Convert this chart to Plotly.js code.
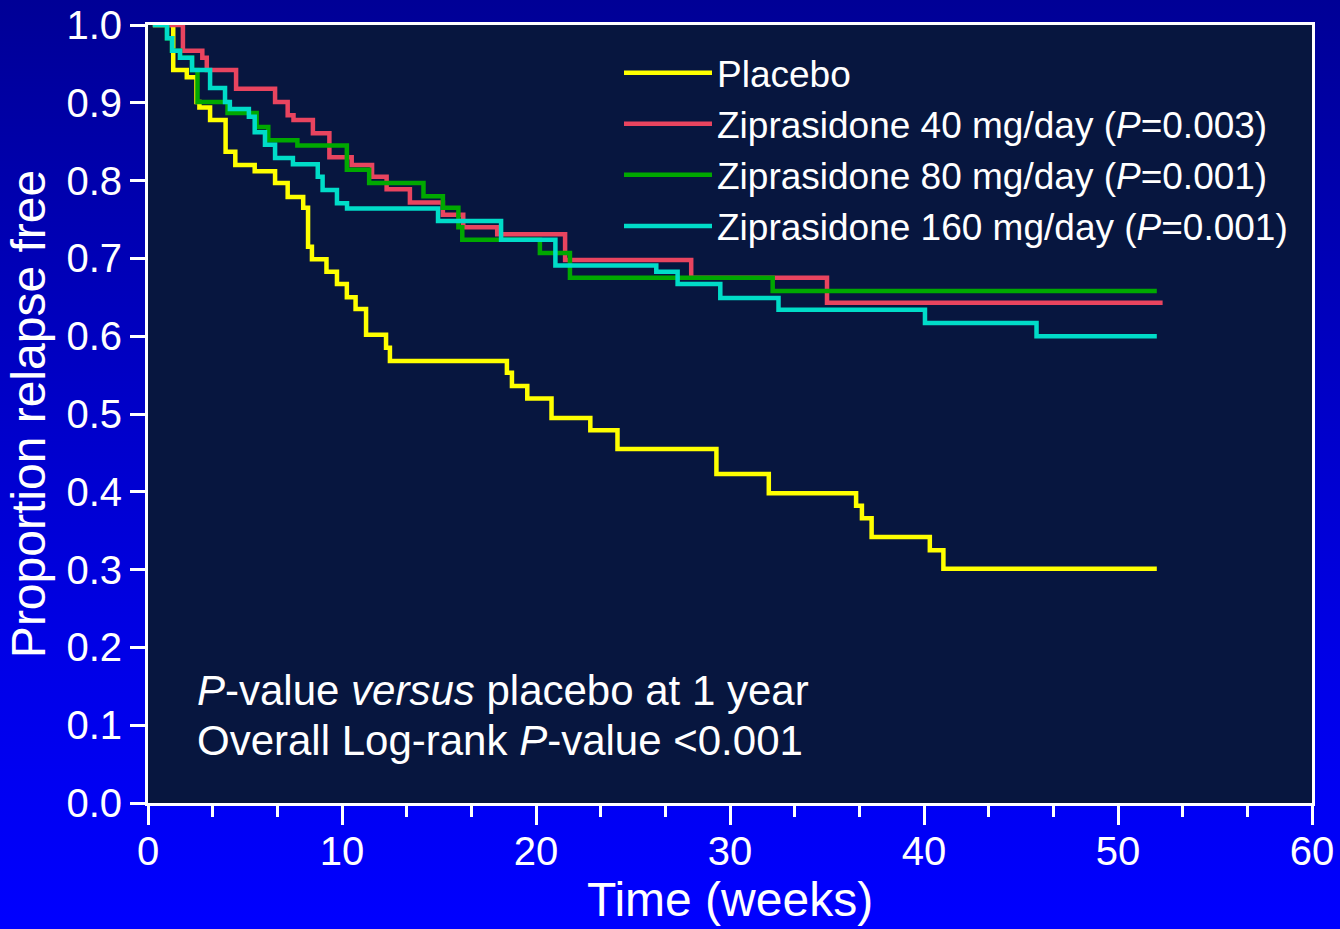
<!DOCTYPE html>
<html>
<head>
<meta charset="utf-8">
<script src="https://cdn.plot.ly/plotly-3.0.1.min.js"></script>
<style>
  html, body { margin: 0; padding: 0; }
  body { width: 1340px; height: 929px; background: linear-gradient(to bottom, #000096 0%, #0000e6 70%, #0000ff 100%); }
  #chart { width: 1340px; height: 929px; }
</style>
</head>
<body>
<div id="chart"></div>
<script>
// Kaplan-Meier step data (time in weeks, proportion relapse free after each step)
const placeboTime = [0.25, 1.3, 2.0, 2.5, 2.65, 3.2, 4.0, 4.5, 5.5, 6.55, 7.2, 8.0, 8.25, 8.45, 9.2, 9.74, 10.25, 10.7, 11.24, 12.27, 12.47, 18.5, 18.76, 19.55, 20.8, 22.8, 24.2, 29.3, 32.0, 36.5, 36.8, 37.3, 40.3, 41.0, 52.0];
const placeboSurv = [1.0, 0.942, 0.933, 0.901, 0.894, 0.878, 0.837, 0.820, 0.812, 0.797, 0.779, 0.765, 0.715, 0.699, 0.683, 0.667, 0.650, 0.635, 0.602, 0.585, 0.568, 0.553, 0.536, 0.520, 0.495, 0.479, 0.455, 0.423, 0.398, 0.382, 0.366, 0.342, 0.325, 0.301, 0.301];

const zip40Time = [0.25, 1.8, 2.8, 3.03, 4.54, 6.55, 7.2, 7.5, 8.5, 9.35, 10.5, 11.55, 12.3, 13.5, 15.2, 16.25, 18.0, 21.5, 28.0, 35.0, 52.3];
const zip40Surv = [1.0, 0.967, 0.958, 0.942, 0.918, 0.901, 0.884, 0.878, 0.861, 0.830, 0.820, 0.805, 0.789, 0.772, 0.756, 0.740, 0.731, 0.698, 0.675, 0.643, 0.643];

const zip80Time = [0.25, 0.98, 1.24, 1.65, 2.27, 2.55, 4.1, 5.6, 6.2, 7.7, 10.25, 11.4, 14.2, 15.2, 16.0, 16.2, 20.2, 21.75, 32.2, 52.0];
const zip80Surv = [1.0, 0.983, 0.967, 0.958, 0.942, 0.901, 0.887, 0.869, 0.852, 0.845, 0.814, 0.797, 0.780, 0.765, 0.740, 0.724, 0.707, 0.675, 0.658, 0.658];

const zip160Time = [0.25, 0.98, 1.24, 1.65, 2.27, 3.2, 3.97, 4.22, 5.2, 5.5, 6.03, 6.55, 7.47, 8.75, 9.0, 9.74, 10.26, 14.95, 18.2, 21.0, 26.2, 27.3, 29.5, 32.5, 40.05, 45.8, 52.0];
const zip160Surv = [1.0, 0.983, 0.967, 0.958, 0.942, 0.919, 0.901, 0.892, 0.882, 0.862, 0.846, 0.829, 0.821, 0.805, 0.788, 0.771, 0.764, 0.748, 0.724, 0.691, 0.683, 0.667, 0.649, 0.634, 0.617, 0.600, 0.600];

const seriesNames = ["Placebo", "Ziprasidone 40 mg/day (<i>P</i>=0.003)", "Ziprasidone 80 mg/day (<i>P</i>=0.001)", "Ziprasidone 160 mg/day (<i>P</i>=0.001)"];
const seriesColors = ["#ffff00", "#e8445f", "#00a800", "#00dcc8"];
const yTickVals = [0, 0.1, 0.2, 0.3, 0.4, 0.5, 0.6, 0.7, 0.8, 0.9, 1.0];
const xTickVals = [0, 10, 20, 30, 40, 50, 60];
const noteLines = ["<i>P</i>-value <i>versus</i> placebo at 1 year", "Overall Log-rank <i>P</i>-value &lt;0.001"];

const FONT = "Liberation Sans, Arial, Helvetica, sans-serif";
const xs = [placeboTime, zip40Time, zip80Time, zip160Time];
const ys = [placeboSurv, zip40Surv, zip80Surv, zip160Surv];

const traces = xs.map((x, i) => ({
  type: "scatter",
  mode: "lines",
  x: x,
  y: ys[i],
  name: seriesNames[i],
  line: { color: seriesColors[i], width: 4.5, shape: "hv" },
  hoverinfo: "skip"
}));

const layout = {
  width: 1340,
  height: 929,
  margin: { l: 148, r: 28, t: 25, b: 126 },
  paper_bgcolor: "rgba(0,0,0,0)",
  plot_bgcolor: "#07163f",
  font: { family: FONT, color: "#ffffff" },
  showlegend: true,
  legend: {
    x: (619 - 148) / 1164, y: 0.978, xanchor: "left", yanchor: "top",
    bgcolor: "rgba(0,0,0,0)",
    font: { family: FONT, size: 37, color: "#ffffff" },
    itemwidth: 88,
    tracegroupgap: 0
  },
  xaxis: {
    range: [0, 60],
    tickvals: xTickVals,
    ticks: "outside", ticklen: 19, tickwidth: 3, tickcolor: "#ffffff",
    showline: true, linecolor: "#ffffff", linewidth: 3, mirror: true,
    showgrid: false, zeroline: false,
    tickfont: { family: FONT, size: 40, color: "#ffffff" },
    ticklabelstandoff: -8,
    minor: { dtick: 10 / 3, ticks: "outside", ticklen: 11, tickwidth: 3, tickcolor: "#ffffff", showgrid: false },
    title: { text: "Time (weeks)", font: { family: FONT, size: 48, color: "#ffffff" }, standoff: 4 },
    automargin: false
  },
  yaxis: {
    range: [0, 1],
    tickvals: yTickVals,
    tickformat: ".1f",
    ticks: "outside", ticklen: 15, tickwidth: 3, tickcolor: "#ffffff",
    showline: true, linecolor: "#ffffff", linewidth: 3, mirror: true,
    showgrid: false, zeroline: false,
    tickfont: { family: FONT, size: 40, color: "#ffffff" },
    title: { text: "Proportion relapse free", font: { family: FONT, size: 48, color: "#ffffff" }, standoff: 6 },
    automargin: false
  },
  annotations: noteLines.map((t, i) => ({
    xref: "paper", yref: "y",
    x: 0.040, y: [0.145, 0.0797][i], xanchor: "left", yanchor: "middle",
    align: "left",
    showarrow: false,
    text: t,
    font: { family: FONT, size: 42, color: "#ffffff" }
  }))
};

Plotly.newPlot("chart", traces, layout, { displayModeBar: false, staticPlot: true });
</script>
</body>
</html>
